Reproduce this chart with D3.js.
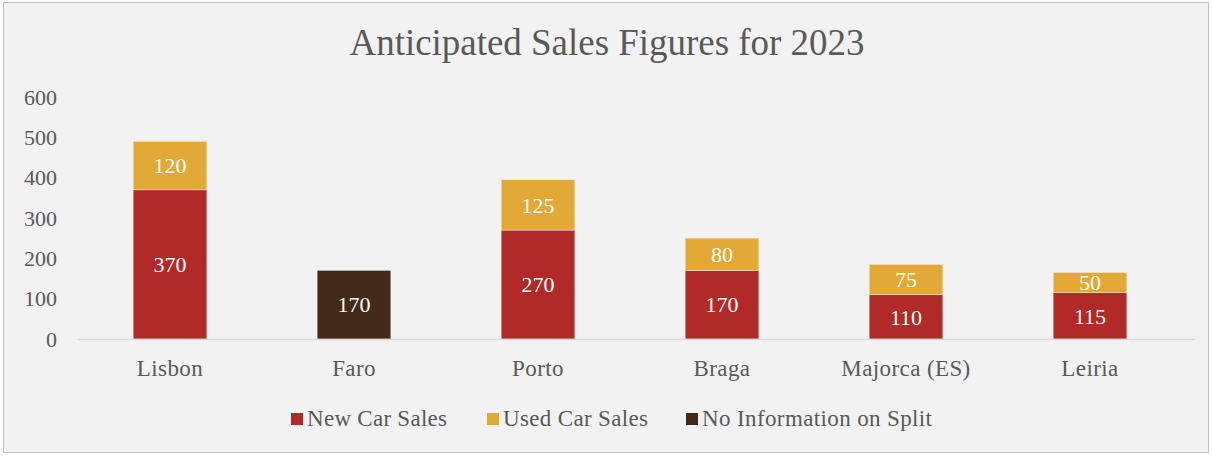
<!DOCTYPE html>
<html>
<head>
<meta charset="utf-8">
<script src="https://cdn.jsdelivr.net/npm/d3@7"></script>
<style>
  html, body { margin: 0; padding: 0; background: #ffffff; }
  svg { display: block; }
  text { font-family: "Liberation Serif", "Times New Roman", serif; }
</style>
</head>
<body>
<svg id="chart" width="1212" height="456"></svg>
<script>
// Anticipated 2023 sales by location
const cities = ["Lisbon", "Faro", "Porto", "Braga", "Majorca (ES)", "Leiria"];
const newCarSales = [370, 0, 270, 170, 110, 115];
const usedCarSales = [120, 0, 125, 80, 75, 50];
const noSplit = [0, 170, 0, 0, 0, 0];
const yTicks = [0, 100, 200, 300, 400, 500, 600];
const seriesNames = ["New Car Sales", "Used Car Sales", "No Information on Split"];
const seriesColors = ["#b22a27", "#e3a936", "#432918"];

const svg = d3.select("#chart");
const W = 1212, H = 456;

// Chart area background and frame
svg.append("rect")
  .attr("x", 3.5).attr("y", 2.5)
  .attr("width", W - 7).attr("height", H - 6)
  .attr("fill", "#f2f2f2")
  .attr("stroke", "#bfbfbf").attr("stroke-width", 1);

const plotLeft = 78, plotTop = 97, plotBottom = 339;

const x = d3.scaleBand()
  .domain(cities)
  .range([plotLeft, plotLeft + 1104])
  .paddingInner(0.6)
  .paddingOuter(0.3);

const y = d3.scaleLinear()
  .domain([0, 600])
  .range([plotBottom, plotTop]);

// Stack the three series per city
const rows = cities.map((c, i) => ({
  city: c,
  "New Car Sales": newCarSales[i],
  "Used Car Sales": usedCarSales[i],
  "No Information on Split": noSplit[i]
}));
const stacked = d3.stack().keys(seriesNames)(rows);

// Title
svg.append("text")
  .attr("x", 607).attr("y", 55)
  .attr("text-anchor", "middle")
  .attr("font-size", 38)
  .attr("textLength", 515)
  .attr("lengthAdjust", "spacingAndGlyphs")
  .attr("fill", "#595959")
  .text("Anticipated Sales Figures for 2023");

// Y axis tick labels (no axis line)
const yAxis = d3.axisLeft(y).tickValues(yTicks).tickSize(0).tickPadding(0);
const yg = svg.append("g")
  .attr("transform", `translate(57,0)`)
  .call(yAxis);
yg.select(".domain").remove();
yg.selectAll("text")
  .attr("font-size", 22)
  .attr("fill", "#595959")
  .attr("font-family", "Liberation Serif, serif")
  .attr("dy", "0.33em");

// Bars
const layer = svg.append("g").selectAll("g")
  .data(stacked)
  .join("g")
  .attr("fill", (d, i) => seriesColors[i]);

layer.selectAll("rect")
  .data(d => d.map(v => ({ v, key: d.key })))
  .join("rect")
  .filter(d => d.v[1] - d.v[0] > 0)
  .attr("x", d => x(d.v.data.city))
  .attr("y", d => y(d.v[1]))
  .attr("width", x.bandwidth())
  .attr("height", d => y(d.v[0]) - y(d.v[1]))
  .attr("stroke", "rgba(255,255,255,0.45)")
  .attr("stroke-width", 0.8);

// Value labels centred in each segment
const labels = [];
stacked.forEach(s => s.forEach(v => {
  const val = v[1] - v[0];
  if (val > 0) labels.push({ city: v.data.city, val, mid: (v[0] + v[1]) / 2 });
}));
svg.append("g").selectAll("text")
  .data(labels)
  .join("text")
  .attr("x", d => x(d.city) + x.bandwidth() / 2)
  .attr("y", d => y(d.mid))
  .attr("dy", "0.35em")
  .attr("text-anchor", "middle")
  .attr("font-size", 22)
  .attr("fill", "#ffffff")
  .text(d => d.val);

// X axis baseline and category labels
const xAxis = d3.axisBottom(x).tickSize(0).tickPadding(0);
const xg = svg.append("g")
  .attr("transform", `translate(0,${plotBottom})`)
  .call(xAxis);
xg.select(".domain")
  .attr("stroke", "#d9d9d9")
  .attr("stroke-width", 1.5)
  .attr("d", `M${plotLeft},0.5H${plotLeft + 1117}`);
xg.selectAll("text")
  .attr("font-size", 23)
  .attr("fill", "#595959")
  .attr("font-family", "Liberation Serif, serif")
  .attr("letter-spacing", 0.4)
  .attr("y", 37)
  .attr("dy", 0);

// Legend
const legendX = [291, 487, 686];
const legendTextLen = [140, 145, 230];
const lg = svg.append("g").selectAll("g")
  .data(seriesNames)
  .join("g")
  .attr("transform", (d, i) => `translate(${legendX[i]},419)`);
lg.append("rect")
  .attr("x", 0).attr("y", -6)
  .attr("width", 12).attr("height", 12)
  .attr("fill", (d, i) => seriesColors[i]);
lg.append("text")
  .attr("x", 16).attr("y", 7)
  .attr("font-size", 23)
  .attr("textLength", (d, i) => legendTextLen[i])
  .attr("lengthAdjust", "spacing")
  .attr("fill", "#595959")
  .text(d => d);
</script>
</body>
</html>
